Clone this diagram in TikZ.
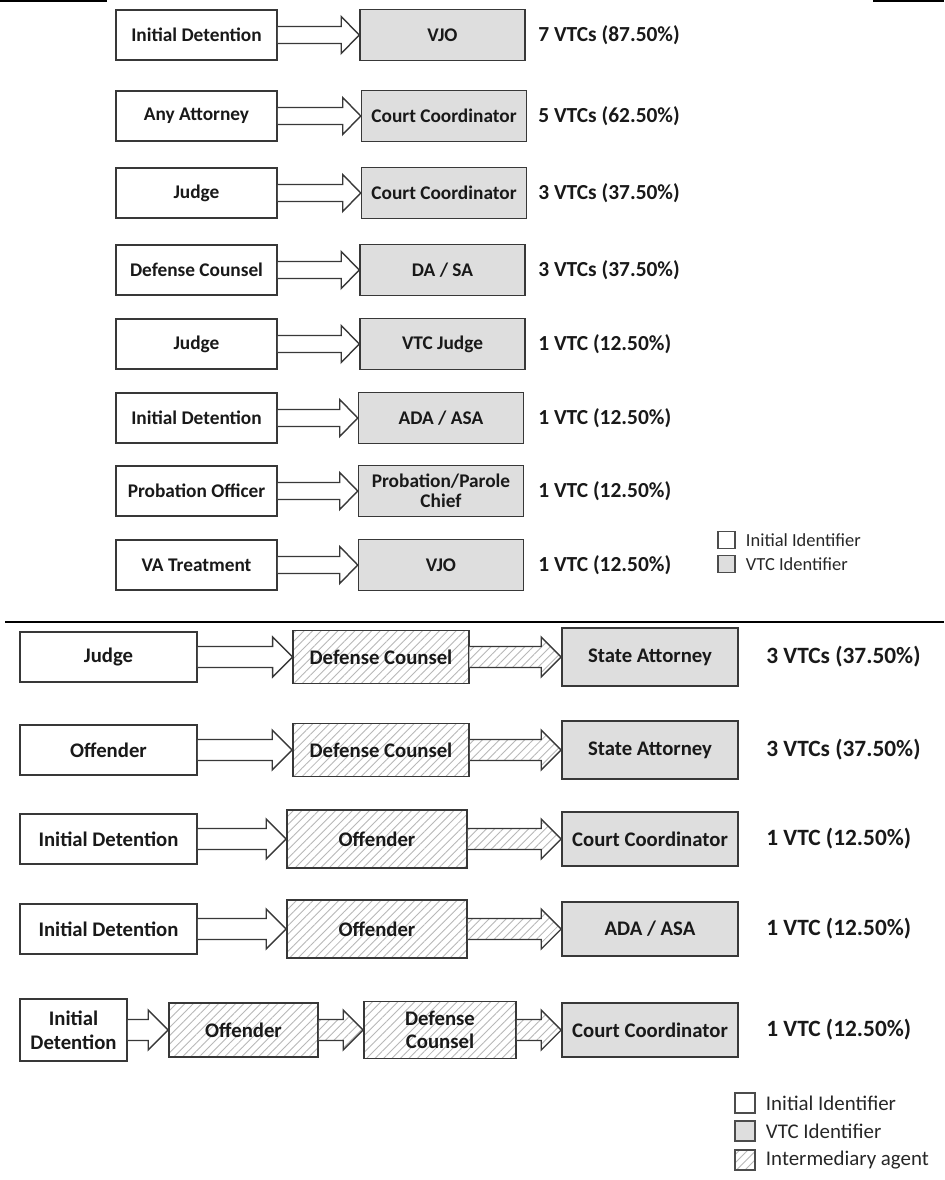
\documentclass[tikz,border=0pt]{standalone}
\usepackage{fontspec}
\setmainfont{Carlito}
\usetikzlibrary{calc,positioning,patterns.meta}

% open block arrow from the east side of #2 to the west side of #3
\newcommand{\blockarrow}[3][arrw]{%
  \draw[#1] ($(#2.east)+(0,-\sh)$) -- ($(#3.west)+(-\hl,-\sh)$) -- ($(#3.west)+(-\hl,-\hh)$)
    -- (#3.west) -- ($(#3.west)+(-\hl,\hh)$) -- ($(#3.west)+(-\hl,\sh)$) -- ($(#2.east)+(0,\sh)$);}

\begin{document}
\begin{tikzpicture}[x=0.02cm,y=-0.02cm,line join=miter]
	\tikzstyle{box}=[draw=black!78,line width=0.9pt,inner sep=1pt,align=center,text=black!90];
	\tikzstyle{init}=[box,fill=white,minimum width=3.22cm,minimum height=1cm,font=\bfseries\fontsize{11}{12.5}\selectfont];
	\tikzstyle{vtc}=[box,fill=black!13,minimum width=3.3cm,minimum height=1.02cm,font=\bfseries\fontsize{11}{12.5}\selectfont];
	\tikzstyle{pct}=[anchor=west,inner sep=0pt,text=black!90,font=\bfseries\fontsize{12.2}{14}\selectfont];
	\tikzstyle{hatch}=[preaction={fill=white},pattern={Lines[angle=45,distance=3.4pt,line width=0.5pt]},pattern color=black!28];
	\tikzstyle{arrw}=[draw=black!78,line width=0.8pt,fill=white];
	\tikzstyle{harrw}=[arrw,hatch];
	\tikzstyle{legbox}=[draw=black!70,line width=0.7pt,minimum size=0.34cm,inner sep=0pt];
	\tikzstyle{legtxt}=[anchor=west,inner sep=0pt,text=black!85,font=\fontsize{10.5}{12}\selectfont];
	\tikzstyle{rule}=[line width=0.9pt];

	\useasboundingbox (0,0) rectangle (944,1180);
	\draw[rule] (0,1) -- (107,1);
	\draw[rule] (873,1) -- (944,1);
	\draw[rule] (5,622) -- (944,622);

	% first part: initial identifier -> VTC identifier
	\def\sh{8.5}\def\hh{18.5}\def\hl{18}
	\node[init] (a1) at (196.5,35) {Initial Detention};
	\node[vtc] (b1) at (442.5,35) {VJO};
	\node[pct] (p1) at (538,35) {7 VTCs (87.50\%)};
	\node[init] (a2) at (196.5,116) {Any Attorney};
	\node[vtc] (b2) at (444,116) {Court Coordinator};
	\node[pct] (p2) at (538,116) {5 VTCs (62.50\%)};
	\node[init] (a3) at (196.5,193) {Judge};
	\node[vtc] (b3) at (444,193) {Court Coordinator};
	\node[pct] (p3) at (538,193) {3 VTCs (37.50\%)};
	\node[init] (a4) at (196.5,270) {Defense Counsel};
	\node[vtc] (b4) at (442.5,270) {DA / SA};
	\node[pct] (p4) at (538,270) {3 VTCs (37.50\%)};
	\node[init] (a5) at (196.5,344) {Judge};
	\node[vtc] (b5) at (442.5,344) {VTC Judge};
	\node[pct] (p5) at (538,344) {1 VTC (12.50\%)};
	\node[init] (a6) at (196.5,418) {Initial Detention};
	\node[vtc] (b6) at (441,418) {ADA / ASA};
	\node[pct] (p6) at (538,418) {1 VTC (12.50\%)};
	\node[init] (a7) at (196.5,491) {Probation Officer};
	\node[vtc] (b7) at (441,491) {Probation/Parole\\[-1pt]Chief};
	\node[pct] (p7) at (538,491) {1 VTC (12.50\%)};
	\node[init] (a8) at (196.5,565) {VA Treatment};
	\node[vtc] (b8) at (441,565) {VJO};
	\node[pct] (p8) at (538,565) {1 VTC (12.50\%)};
	\blockarrow{a1}{b1}
	\blockarrow{a2}{b2}
	\blockarrow{a3}{b3}
	\blockarrow{a4}{b4}
	\blockarrow{a5}{b5}
	\blockarrow{a6}{b6}
	\blockarrow{a7}{b7}
	\blockarrow{a8}{b8}

	\node[legbox,fill=white] (la) at (726.5,540) {};
	\node[legtxt,right=0.2cm of la] {Initial Identifier};
	\node[legbox,fill=black!13] (lb) at (726.5,564) {};
	\node[legtxt,right=0.2cm of lb] {VTC Identifier};

	% second part: chains through an intermediary agent
	\tikzstyle{init}=[box,fill=white,minimum width=3.54cm,minimum height=1cm,font=\bfseries\fontsize{11.8}{13.5}\selectfont];
	\tikzstyle{mid}=[box,hatch,minimum width=3.52cm,minimum height=1.06cm,font=\bfseries\fontsize{11.8}{13.5}\selectfont];
	\tikzstyle{vtc}=[box,fill=black!13,minimum width=3.52cm,minimum height=1.16cm,font=\bfseries\fontsize{11.8}{13.5}\selectfont];
	\tikzstyle{pct}=[anchor=west,inner sep=0pt,text=black!90,font=\bfseries\fontsize{13.3}{15}\selectfont];
	\tikzstyle{legbox}=[draw=black!70,line width=0.7pt,minimum size=0.4cm,inner sep=0pt];
	\tikzstyle{legtxt}=[anchor=west,inner sep=0pt,text=black!85,font=\fontsize{11.9}{13.5}\selectfont];
	\def\sh{10.5}\def\hh{20}\def\hl{20}
	\node[init] (c1) at (108.5,657) {Judge};
	\node[mid] (d1) at (381,657) {Defense Counsel};
	\node[vtc] (e1) at (650,657) {State Attorney};
	\node[pct] (q1) at (766,657) {3 VTCs (37.50\%)};
	\node[init] (c2) at (108.5,750) {Offender};
	\node[mid] (d2) at (381,750) {Defense Counsel};
	\node[vtc] (e2) at (650,750) {State Attorney};
	\node[pct] (q2) at (766,750) {3 VTCs (37.50\%)};
	\node[init] (c3) at (108.5,839) {Initial Detention};
	\node[mid,minimum width=3.6cm,minimum height=1.16cm] (d3) at (377,839) {Offender};
	\node[vtc,minimum height=1.08cm] (e3) at (650,839) {Court Coordinator};
	\node[pct] (q3) at (766,839) {1 VTC (12.50\%)};
	\node[init] (c4) at (108.5,929) {Initial Detention};
	\node[mid,minimum width=3.6cm,minimum height=1.16cm] (d4) at (377,929) {Offender};
	\node[vtc,minimum height=1.08cm] (e4) at (650,929) {ADA / ASA};
	\node[pct] (q4) at (766,929) {1 VTC (12.50\%)};
	\node[init,minimum width=2.14cm,minimum height=1.24cm] (c5) at (73.5,1030) {Initial\\Detention};
	\node[mid,minimum width=2.98cm,minimum height=1.08cm] (d5) at (243.5,1030) {Offender};
	\node[mid,minimum width=3.04cm,minimum height=1.14cm] (f5) at (440,1030) {Defense\\Counsel};
	\node[vtc,minimum height=1.08cm] (e5) at (650,1030) {Court Coordinator};
	\node[pct] (q5) at (766,1030) {1 VTC (12.50\%)};
	\blockarrow{c1}{d1}
	\blockarrow[harrw]{d1}{e1}
	\blockarrow{c2}{d2}
	\blockarrow[harrw]{d2}{e2}
	\blockarrow{c3}{d3}
	\blockarrow[harrw]{d3}{e3}
	\blockarrow{c4}{d4}
	\blockarrow[harrw]{d4}{e4}
	\blockarrow{c5}{d5}
	\blockarrow[harrw]{d5}{f5}
	\blockarrow[harrw]{f5}{e5}

	\node[legbox,fill=white] (lc) at (745,1103) {};
	\node[legtxt,right=0.2cm of lc] {Initial Identifier};
	\node[legbox,fill=black!13] (ld) at (745,1131) {};
	\node[legtxt,right=0.2cm of ld] {VTC Identifier};
	\node[legbox,hatch] (le) at (745,1160) {};
	\node[legtxt,right=0.2cm of le] {Intermediary agent};
\end{tikzpicture}
\end{document}
